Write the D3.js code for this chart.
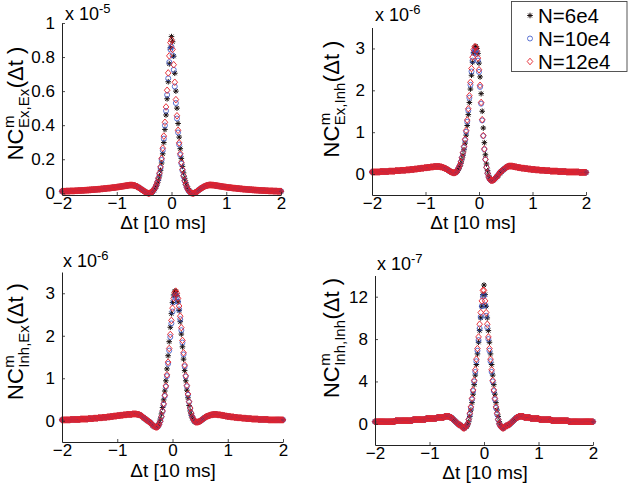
<!DOCTYPE html>
<html>
<head>
<meta charset="utf-8">
<script src="https://cdn.jsdelivr.net/npm/d3@7"></script>
<style>
  body { margin: 0; background: #fff; }
  text { font-family: "Liberation Sans", Arial, Helvetica, sans-serif; fill: #000; }
</style>
</head>
<body>
<svg id="fig" width="630" height="487"></svg>
<script>
// time lag grid, -2 .. 2 in steps of 0.02 (units of 10 ms)
const dt = d3.range(-200, 201, 2).map(v => v / 100);
const xTicks = [-2, -1, 0, 1, 2];
const seriesNames = ['N=6e4', 'N=10e4', 'N=12e4'];

// Ex,Ex  (values in 0.001 x 1e-5)
const eeTailL = [
  12,12,12,12,13,13,13,13,14,14,
  14,14,15,15,15,16,16,16,17,17,
  17,18,18,19,19,20,20,21,21,22,
  22,23,23,24,24,25,26,26,27,28,
  28,29,30,30,31,32,33,33,34,35,
  36,37,38,39,40,41,42,43,44,45,
  46,47,48,48,48,47,46,44,41,38,
  34,30,26,21,17,12,8,4,2,0];
const eeTailR = [
  2,5,9,14,19,24,29,33,37,40,
  43,45,47,48,49,49,48,48,47,46,
  45,44,43,42,41,40,39,38,37,36,
  35,34,33,33,32,31,30,30,29,28,
  28,27,26,26,25,24,24,23,23,22,
  22,21,21,20,20,19,19,18,18,17,
  17,17,16,16,16,15,15,15,14,14,
  14,14,13,13,13,13,12,12,12,12];
const ee6Mid = [
  0,2,5,10,17,27,40,56,76,102,
  135,178,232,298,375,460,555,655,760,855,
  920,
  890,805,705,600,500,410,330,262,205,158,
  120,88,63,43,28,17,9,4,1,0];
const ee10Mid = [
  1,3,7,13,21,32,46,63,85,113,
  149,196,253,321,398,484,578,675,770,845,
  860,
  810,725,627,530,439,357,286,225,175,134,
  100,72,51,34,21,12,6,2,0,0];
const ee12Mid = [
  1,3,7,13,22,33,48,66,89,118,
  156,205,265,336,417,507,605,707,807,885,
  900,
  845,755,652,550,455,370,296,233,181,139,
  104,75,53,35,22,13,6,2,0,0];

// Ex,Inh  (values in 0.01 x 1e-6)
const eiTailL = [
  5,5,5,5,5,5,5,5,6,6,
  6,6,6,6,6,6,7,7,7,7,
  7,7,8,8,8,8,8,9,9,9,
  9,9,10,10,10,10,11,11,11,11,
  12,12,12,13,13,13,14,14,14,15,
  15,15,16,16,16,17,17,17,18,18,
  18,18,18,18,17,17,16,15,14,13,
  11,10,8,6,5,4,3,3,4,5];
const eiTailR = [
  6,9,11,13,15,17,18,19,19,19,
  19,18,18,17,17,16,16,15,15,14,
  14,14,13,13,13,12,12,12,11,11,
  11,11,10,10,10,10,9,9,9,9,
  9,8,8,8,8,8,7,7,7,7,
  7,7,7,6,6,6,6,6,6,6,
  6,5,5,5,5,5,5,5,5,5,
  5,5,5,4,4,4,4,4,4,4];
const ei6Mid = [
  8,12,18,25,34,45,58,74,93,116,
  142,171,203,236,267,290,303,305,300,288,
  265,
  232,192,150,110,75,46,24,8,-3,-10,
  -14,-15,-15,-14,-12,-9,-6,-3,0,3];
const ei10Mid = [
  10,15,21,29,39,50,64,81,101,125,
  152,182,213,245,271,289,296,295,287,271,
  244,
  208,168,128,91,59,35,16,2,-7,-12,
  -15,-15,-15,-13,-11,-8,-5,-2,2,5];
const ei12Mid = [
  10,15,21,29,39,51,66,83,104,129,
  156,187,219,252,279,297,304,303,294,277,
  249,
  212,171,130,92,60,35,16,2,-7,-12,
  -15,-15,-15,-13,-11,-8,-5,-2,2,5];

// Inh,Ex  (values in 0.01 x 1e-6)
const ieTailL = [
  2,2,2,2,2,2,2,2,3,3,
  3,3,3,3,3,3,3,4,4,4,
  4,4,4,4,5,5,5,5,5,6,
  6,6,6,7,7,7,7,8,8,8,
  8,9,9,9,10,10,10,11,11,11,
  12,12,12,13,13,13,14,14,14,15,
  15,15,15,15,16,16,16,16,15,15,
  14,13,11,9,7,5,3,1,-1,-3];
const ieTailR = [
  -3,-3,-3,-2,-1,1,3,5,7,9,
  10,11,12,13,14,14,15,15,15,15,
  14,14,14,13,13,12,12,11,11,10,
  10,10,9,9,9,8,8,8,7,7,
  7,7,6,6,6,6,5,5,5,5,
  5,4,4,4,4,4,4,3,3,3,
  3,3,3,3,3,3,2,2,2,2,
  2,2,2,2,2,2,2,2,2,2];
const ie6Mid = [
  -5,-8,-11,-13,-15,-15,-14,-11,-5,4,
  16,31,49,70,94,122,153,186,220,252,
  278,
  296,305,304,295,280,259,233,204,174,145,
  118,94,72,54,36,23,13,6,1,-2];
const ie10Mid = [
  -4,-7,-10,-12,-14,-15,-15,-13,-8,-1,
  9,22,38,58,80,105,134,165,197,229,
  257,
  279,292,296,291,280,262,239,213,184,156,
  128,104,81,61,44,29,17,9,3,-1];
const ie12Mid = [
  -4,-7,-10,-12,-14,-15,-15,-13,-8,-1,
  10,23,40,60,82,108,138,170,203,236,
  265,
  288,301,305,300,288,270,246,219,189,160,
  131,106,83,63,45,30,18,9,3,-1];

// Inh,Inh  (values in 0.1 x 1e-7)
const iiTailL = [
  2,2,2,2,2,2,2,2,2,2,
  2,2,2,2,2,2,2,2,2,3,
  3,3,3,3,3,3,3,3,3,3,
  3,3,3,3,3,4,4,4,4,4,
  4,4,4,4,4,4,4,5,5,5,
  5,5,5,5,5,5,5,6,6,6,
  6,6,6,6,7,7,7,7,7,6,
  6,5,4,3,2,1,0,-1,-1,-2];
const iiTailR = [
  -2,-1,-1,0,1,2,3,4,5,6,
  6,7,7,7,7,7,6,6,6,6,
  6,6,5,5,5,5,5,5,5,5,
  4,4,4,4,4,4,4,4,4,4,
  4,3,3,3,3,3,3,3,3,3,
  3,3,3,3,3,3,3,2,2,2,
  2,2,2,2,2,2,2,2,2,2,
  2,2,2,2,2,2,2,2,2,2];
const ii6Mid = [
  -2,-3,-4,-3,-3,-1,2,7,13,20,
  28,37,46,56,66,77,88,100,111,122,
  131,
  122,111,100,88,77,66,56,46,37,28,
  20,13,7,2,-1,-3,-3,-4,-3,-2];
const ii10Mid = [
  -3,-4,-4,-3,-2,0,4,9,15,23,
  31,40,49,59,69,79,90,101,111,120,
  121,
  112,102,91,80,69,59,49,40,31,23,
  15,9,4,0,-2,-3,-4,-4,-3,-2];
const ii12Mid = [
  -3,-4,-4,-3,-2,0,4,10,16,24,
  32,41,51,61,71,82,94,105,116,126,
  126,
  116,105,94,82,71,61,51,41,32,24,
  16,10,4,0,-2,-3,-4,-4,-3,-2];

const join = (l, m, r) => [...l, ...m, ...r];

// marker shapes (size = half-extent in px)
const asterisk = { draw(c, r) {
  const q = r * Math.SQRT1_2;
  c.moveTo(-r, 0); c.lineTo(r, 0);
  c.moveTo(0, -r); c.lineTo(0, r);
  c.moveTo(-q, -q); c.lineTo(q, q);
  c.moveTo(-q, q); c.lineTo(q, -q);
}};
const ring = { draw(c, r) { c.moveTo(r, 0); c.arc(0, 0, r, 0, 2 * Math.PI); } };
const diamond = { draw(c, r) {
  c.moveTo(0, -r); c.lineTo(r * 0.85, 0); c.lineTo(0, r); c.lineTo(-r * 0.85, 0); c.closePath();
}};
const styles = [
  { shape: asterisk, size: 2.8, color: '#1a0f0f', width: 1 },
  { shape: ring, size: 2.5, color: '#3450c8', width: 0.8 },
  { shape: diamond, size: 3.3, color: '#e3212a', width: 0.9 }
];

const panels = [
  { sub: 'Ex,Ex', exp: '-5', unit: 1000,
    series: [join(eeTailL, ee6Mid, eeTailR), join(eeTailL, ee10Mid, eeTailR), join(eeTailL, ee12Mid, eeTailR)],
    yDom: [-0.01, 1], yTicks: [0, 0.2, 0.4, 0.6, 0.8, 1],
    xr: [62, 281], yr: [195, 23], xl: [163, 229], yl: [23, 103.5], mult: [65, 20] },
  { sub: 'Ex,Inh', exp: '-6', unit: 100,
    series: [join(eiTailL, ei6Mid, eiTailR), join(eiTailL, ei10Mid, eiTailR), join(eiTailL, ei12Mid, eiTailR)],
    yDom: [-0.5, 3.5], yTicks: [0, 1, 2, 3],
    xr: [372, 586], yr: [195, 27.5], xl: [473, 229], yl: [339, 99], mult: [375, 21] },
  { sub: 'Inh,Ex', exp: '-6', unit: 100,
    series: [join(ieTailL, ie6Mid, ieTailR), join(ieTailL, ie10Mid, ieTailR), join(ieTailL, ie12Mid, ieTailR)],
    yDom: [-0.5, 3.5], yTicks: [0, 1, 2, 3],
    xr: [62, 283], yr: [442, 272], xl: [173, 477], yl: [23, 341.5], mult: [63, 267] },
  { sub: 'Inh,Inh', exp: '-7', unit: 10,
    series: [join(iiTailL, ii6Mid, iiTailR), join(iiTailL, ii10Mid, iiTailR), join(iiTailL, ii12Mid, iiTailR)],
    yDom: [-2, 14], yTicks: [0, 4, 8, 12],
    xr: [375, 593], yr: [445, 275.5], xl: [485, 479], yl: [339, 338], mult: [377, 270] }
];

const svg = d3.select('#fig');
svg.append('rect').attr('width', 630).attr('height', 487).attr('fill', '#fff');

function styleAxis(a) {
  a.selectAll('.domain').attr('stroke', '#222').attr('stroke-width', 1);
  a.selectAll('.tick line').attr('stroke', '#222').attr('stroke-width', 0.8);
  a.selectAll('.tick text').attr('font-size', 17).attr('fill', '#000');
}

function yLabel(p) {
  const g = svg.append('g').attr('transform', `translate(${p.yl[0]},${p.yl[1]}) rotate(-90)`);
  const nc = g.append('text').attr('font-size', 22).text('NC');
  const w1 = nc.node().getComputedTextLength();
  const sup = g.append('text').attr('x', w1 + 0.5).attr('y', -9).attr('font-size', 15).text('m');
  const sb = g.append('text').attr('x', w1 + 0.5).attr('y', 6).attr('font-size', 15).text(p.sub);
  const w2 = w1 + 1 + Math.max(sup.node().getComputedTextLength(), sb.node().getComputedTextLength());
  const par = g.append('text').attr('x', w2).attr('font-size', 22).text('(\u0394t\u00a0)');
  const total = w2 + par.node().getComputedTextLength();
  g.selectAll('text').attr('transform', `translate(${-total / 2},0)`);
}

panels.forEach(p => {
  const x = d3.scaleLinear().domain([-2, 2]).range(p.xr);
  const y = d3.scaleLinear().domain(p.yDom).range(p.yr);
  const g = svg.append('g');

  // markers: stars, circles, then diamonds on top
  p.series.forEach((vals, k) => {
    const st = styles[k];
    const sym = d3.symbol().type(st.shape).size(st.size);
    g.append('g')
      .selectAll('path')
      .data(vals)
      .join('path')
      .attr('transform', (v, i) => `translate(${x(dt[i]).toFixed(2)},${y(v / p.unit).toFixed(2)})`)
      .attr('d', sym)
      .attr('fill', 'none')
      .attr('stroke', st.color)
      .attr('stroke-width', st.width);
  });

  const ax = g.append('g')
    .attr('transform', `translate(0,${p.yr[0]})`)
    .call(d3.axisBottom(x).tickValues(xTicks).tickFormat(d3.format('d'))
      .tickSizeInner(-3).tickSizeOuter(0).tickPadding(2));
  styleAxis(ax);

  const ay = g.append('g')
    .attr('transform', `translate(${p.xr[0]},0)`)
    .call(d3.axisLeft(y).tickValues(p.yTicks).tickFormat(d => String(d))
      .tickSizeInner(-3).tickSizeOuter(0).tickPadding(7));
  styleAxis(ay);

  // exponent multiplier
  const m = g.append('text').attr('x', p.mult[0]).attr('y', p.mult[1]).attr('font-size', 18);
  m.append('tspan').text('x 10');
  m.append('tspan').attr('dy', -7).attr('font-size', 13).text(p.exp);

  g.append('text')
    .attr('x', p.xl[0]).attr('y', p.xl[1])
    .attr('text-anchor', 'middle').attr('font-size', 19)
    .text('\u0394t [10 ms]');

  yLabel(p);
});

// legend
const lg = svg.append('g');
lg.append('rect').attr('x', 511.5).attr('y', 1.5).attr('width', 115.5).attr('height', 70)
  .attr('fill', '#fff').attr('stroke', '#444').attr('stroke-width', 0.9);
const rowY = [23, 46, 69];
seriesNames.forEach((name, k) => {
  const st = styles[k];
  lg.append('path')
    .attr('transform', `translate(530,${rowY[k] - 7.5})`)
    .attr('d', d3.symbol().type(st.shape).size(st.size)())
    .attr('fill', 'none').attr('stroke', st.color).attr('stroke-width', st.width);
  lg.append('text').attr('x', 538).attr('y', rowY[k]).attr('font-size', 20.5).text(name);
});
</script>
</body>
</html>
